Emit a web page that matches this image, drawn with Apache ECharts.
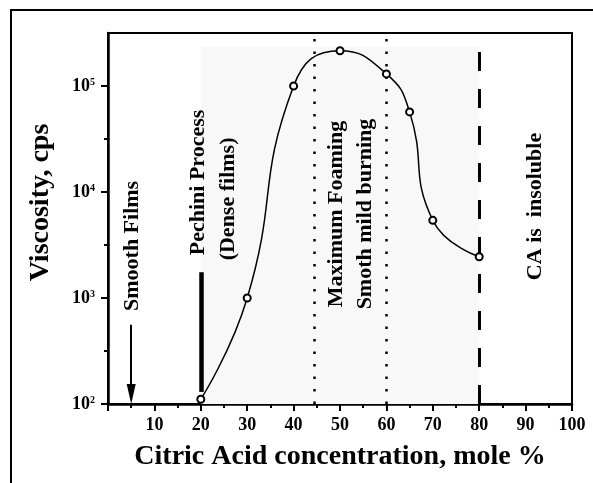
<!DOCTYPE html>
<html>
<head>
<meta charset="utf-8">
<script src="https://cdn.jsdelivr.net/npm/echarts@6/dist/echarts.min.js"></script>
<style>
html,body{margin:0;padding:0;background:#fff;}
#chart{width:593px;height:483px;}
</style>
</head>
<body>
<div id="chart"></div>
<script>
// Data
var concentration = [20, 30, 40, 50, 60, 65, 70, 80];
var viscosity = [111, 1000, 100000, 215000, 130000, 57000, 5400, 2450];
var yTicks = [100, 1000, 10000, 100000];
var yMinorTicks = [316.23, 3162.3, 31623];
var yTickLabels = ['10{s|2}', '10{s|3}', '10{s|4}', '10{s|5}'];
var xTickLabels = ['', '10', '20', '30', '40', '50', '60', '70', '80', '90', '100'];
// Annotation lines / regions (x in mole %, y in cps)
var dottedLinesX = [44.5, 60];
var dashedLineX = 80;
var shadedRegion = { x0: 20, x1: 80, y0: 100, y1: 233000 };
var pechiniBar = { x: 20, y0: 130, y1: 1750 };
var smoothArrow = { x: 5, y0: 560, y1: 124 };
// Rotated annotation texts: [text, x, y]
var annotations = [
  ['Smooth Films', 5.2, 3100],
  ['Pechini Process', 19.5, 12300],
  ['(Dense films)', 26.0, 8600],
  ['Maximum Foaming', 49.3, 6200],
  ['Smoth mild burning', 55.4, 6200],
  ['CA is  insoluble', 92.2, 7300]
];

var serif = '"Liberation Serif", "Times New Roman", serif';
var chart = echarts.init(document.getElementById('chart'), null, {renderer: 'canvas'});

var option = {
  backgroundColor: '#fff',
  animation: false,
  graphic: [{
    type: 'rect',
    shape: {x: 11, y: 10, width: 640, height: 520},
    style: {fill: 'none', stroke: '#000', lineWidth: 2},
    silent: true, z: -10
  }],
  grid: {
    left: 108, right: 21, top: 33, bottom: 79,
    show: true, borderColor: '#000', borderWidth: 2, backgroundColor: 'transparent'
  },
  xAxis: {
    type: 'value', min: 0, max: 100, interval: 10,
    name: 'Citric Acid concentration, mole %',
    nameLocation: 'middle', nameGap: 39,
    nameTextStyle: {fontFamily: serif, fontWeight: 'bold', fontSize: 28, color: '#000'},
    axisLine: {show: true, lineStyle: {color: '#000', width: 2.5}},
    axisTick: {show: true, inside: false, length: 7, lineStyle: {color: '#000', width: 2}},
    minorTick: {show: true, splitNumber: 2, length: 4, lineStyle: {color: '#000', width: 2}},
    splitLine: {show: false},
    axisLabel: {
      margin: 12, fontFamily: serif, fontWeight: 'bold', fontSize: 18, color: '#000',
      formatter: function (v) { return xTickLabels[Math.round(v / 10)]; }
    }
  },
  yAxis: [{
    type: 'log', logBase: 10, min: 100, max: 316228,
    name: 'Viscosity, cps',
    nameLocation: 'middle', nameGap: 53,
    nameTextStyle: {fontFamily: serif, fontWeight: 'bold', fontSize: 28, color: '#000', padding: [0, 0, 0, 32]},
    axisLine: {show: true, lineStyle: {color: '#000', width: 2.5}},
    axisTick: {show: true, inside: false, length: 7, lineStyle: {color: '#000', width: 2}, customValues: yTicks},
    minorTick: {show: false},
    splitLine: {show: false},
    axisLabel: {
      margin: 13, customValues: yTicks,
      fontFamily: serif, fontWeight: 'bold', fontSize: 18, color: '#000',
      formatter: function (v) {
        var i = yTicks.indexOf(Math.round(v));
        return i >= 0 ? yTickLabels[i] : '';
      },
      rich: {
        s: {fontFamily: serif, fontWeight: 'bold', fontSize: 10, color: '#000', verticalAlign: 'top', padding: [0, 0, 6, 0]}
      }
    }
  }, {
    type: 'log', logBase: 10, min: 100, max: 316228,
    position: 'left', offset: 0,
    axisLine: {show: false},
    axisTick: {show: true, inside: false, length: 4, lineStyle: {color: '#000', width: 2}, customValues: yMinorTicks},
    axisLabel: {show: false},
    splitLine: {show: false},
    minorTick: {show: false}
  }],
  series: [
    {
      type: 'line',
      name: 'annotations',
      data: [],
      silent: true,
      markArea: {
        silent: true,
        itemStyle: {color: '#f8f8f8'},
        data: [[{coord: [shadedRegion.x0, shadedRegion.y0]}, {coord: [shadedRegion.x1, shadedRegion.y1]}]]
      },
      markLine: {
        silent: true,
        symbol: ['none', 'none'],
        label: {show: false},
        data: [
          {xAxis: dottedLinesX[0], lineStyle: {color: '#000', width: 2.5, type: [2.5, 10]}},
          {xAxis: dottedLinesX[1], lineStyle: {color: '#000', width: 2.5, type: [2.5, 10]}},
          {xAxis: dashedLineX, lineStyle: {color: '#000', width: 3, type: [19, 18]}},
          [{coord: [pechiniBar.x, pechiniBar.y0], lineStyle: {color: '#000', width: 4.5, type: 'solid'}},
           {coord: [pechiniBar.x, pechiniBar.y1]}],
          [{coord: [smoothArrow.x, smoothArrow.y0], symbol: 'none', lineStyle: {color: '#000', width: 2, type: 'solid'}},
           {coord: [smoothArrow.x, smoothArrow.y1], symbol: 'triangle', symbolSize: [9, 20], symbolRotate: 180}]
        ]
      },
      markPoint: {
        silent: true,
        symbol: 'circle', symbolSize: 0,
        data: annotations.map(function (a) {
          return {
            coord: [a[1], a[2]],
            label: {
              show: true, position: 'inside', rotate: 90,
              formatter: a[0],
              fontFamily: serif, fontWeight: 'bold', fontSize: 22, color: '#000'
            }
          };
        })
      }
    },
    {
      type: 'line',
      name: 'Viscosity',
      data: concentration.map(function (c, i) { return [c, viscosity[i]]; }),
      smooth: 0.5,
      symbol: 'emptyCircle',
      symbolSize: 7,
      lineStyle: {color: '#000', width: 1.5},
      itemStyle: {color: '#000', borderColor: '#000', borderWidth: 1.2},
      z: 5
    }
  ]
};
chart.setOption(option);
</script>
</body>
</html>
